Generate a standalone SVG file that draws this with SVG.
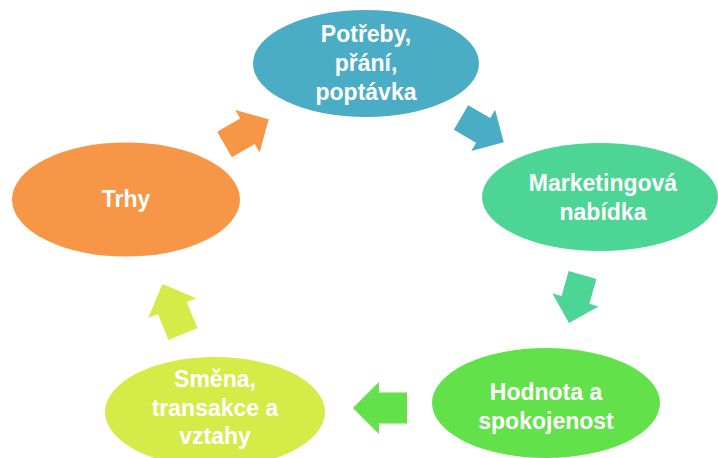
<svg xmlns="http://www.w3.org/2000/svg" width="718" height="458" viewBox="0 0 718 458">
  <style>
    .lbl { font-family: "Liberation Sans", Arial, sans-serif; font-weight: bold; font-size: 23px; fill: #ffffff; text-anchor: middle; }
  </style>
  <defs>
    <!-- block arrow pointing right, tail centred on the origin -->
    <path id="blockArrow" d="M0,-15 L27,-15 L27,-25 L52,0 L27,25 L27,15 L0,15 Z"/>
  </defs>
  <rect width="718" height="458" fill="#ffffff"/>

  <g id="connectors">
    <use href="#blockArrow" fill="#4BACC6" transform="translate(461,117.5) rotate(30) scale(0.95)"/>
    <use href="#blockArrow" fill="#4CD594" transform="translate(582.5,275) rotate(105.7) scale(0.96)"/>
    <use href="#blockArrow" fill="#63E14A" transform="translate(407,408) rotate(180) scale(1.04)"/>
    <use href="#blockArrow" fill="#D5EB48" transform="translate(183,334) rotate(-112.4) scale(1.04)"/>
    <use href="#blockArrow" fill="#F79646" transform="translate(224.5,144.5) rotate(-29.8) scale(0.98)"/>
  </g>

  <g id="node-potreby">
    <ellipse cx="366" cy="63.5" rx="113" ry="53.5" fill="#4BACC6"/>
    <text class="lbl" x="366" y="42">Potřeby,</text>
    <text class="lbl" x="366" y="71">přání,</text>
    <text class="lbl" x="366" y="100">poptávka</text>
  </g>

  <g id="node-nabidka">
    <ellipse cx="600" cy="197" rx="118" ry="54" fill="#4CD594"/>
    <text class="lbl" x="603" y="190.5">Marketingová</text>
    <text class="lbl" x="603" y="220">nabídka</text>
  </g>

  <g id="node-hodnota">
    <ellipse cx="546" cy="403" rx="114" ry="55" fill="#63E14A"/>
    <text class="lbl" x="546" y="400">Hodnota a</text>
    <text class="lbl" x="546" y="429">spokojenost</text>
  </g>

  <g id="node-smena">
    <ellipse cx="215" cy="412" rx="110" ry="55" fill="#D5EB48"/>
    <text class="lbl" x="215" y="387">Směna,</text>
    <text class="lbl" x="215" y="416">transakce a</text>
    <text class="lbl" x="215" y="444">vztahy</text>
  </g>

  <g id="node-trhy">
    <ellipse cx="126" cy="199.5" rx="114" ry="57" fill="#F79646"/>
    <text class="lbl" x="126" y="207">Trhy</text>
  </g>
</svg>
